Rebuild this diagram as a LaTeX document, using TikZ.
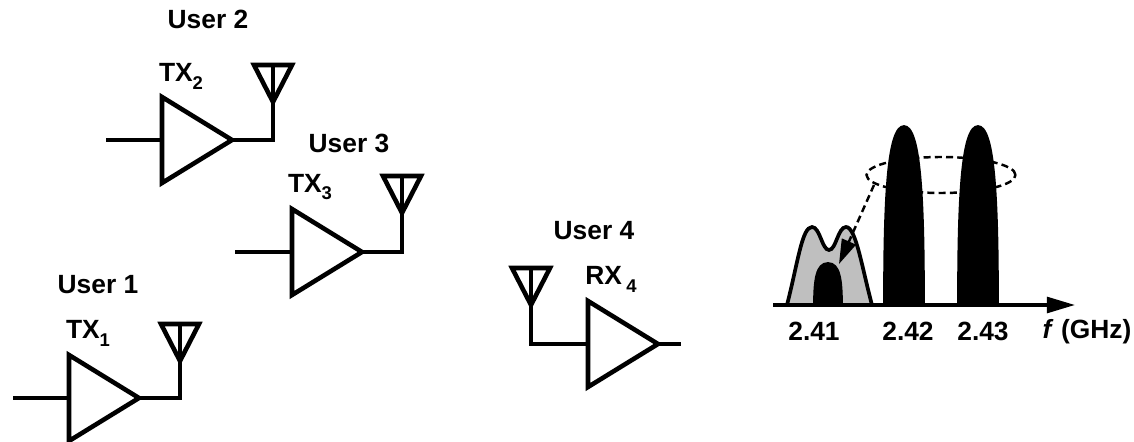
\documentclass[tikz,border=0pt]{standalone}
\usepackage{fontspec}
\setmainfont{Liberation Sans}
\usetikzlibrary{calc,positioning,arrows.meta,shapes.geometric}
\newcommand{\lowidx}[1]{\raisebox{-.3em}{\fontsize{10.5}{12}\selectfont #1}}
\tikzset{
    wire/.style={line width=1.9pt},
    outline/.style={line width=2.6pt,line join=miter},
    hump/.style={fill=black,draw=black,line width=1pt},
    dash line/.style={line width=1.4pt,dash pattern=on 4pt off 2.4pt},
    label/.style={inner sep=0pt,font=\fontsize{15}{17}\selectfont\bfseries},
    pics/amp/.style={code={
        \draw[outline] (0,-43) coordinate (-top) -- (0,43) coordinate (-bot) -- (70,0) coordinate (-tip) -- cycle;
        \coordinate (-mid) at (0,0);
    }},
    pics/aerial/.style={code={
        \draw[outline] (-19,0) -- (19,0) -- (0,37) coordinate (-apex) -- cycle;
        \coordinate (-head) at (0,0);
    }}
}
\begin{document}
\begin{tikzpicture}[x=0.02cm,y=-0.02cm]
    \useasboundingbox (0,0) rectangle (1134,442);
    % transmitters
    \pic (txa) at (69,398) {amp};
    \pic (txb) at (162,140) {amp};
    \pic (txc) at (292,252) {amp};
    \pic (rxd) at (588,344) {amp};
    \pic (anta) at (180,324) {aerial};
    \pic (antb) at (273,65) {aerial};
    \pic (antc) at (402,176) {aerial};
    \pic (antd) at (531,268) {aerial};
    \coordinate (ina) at (13,398);
    \coordinate (inb) at (106,140);
    \coordinate (inc) at (235,252);
    \coordinate (outd) at (681,344);
    \foreach \amp/\ant/\inp in {txa/anta/ina,txb/antb/inb,txc/antc/inc}{
        \draw[wire] (\inp) -- (\amp-mid);
        \draw[wire] (\amp-tip) -| (\ant-head);
    }
    \draw[wire] (antd-head) |- (rxd-mid);
    \draw[wire] (rxd-tip) -- (outd);
    % labels
    \node[label] (usera) at (98,285) {User 1};
    \node[label] (userb) at (208,19) {User 2};
    \node[label] (userc) at (349,143) {User 3};
    \node[label] (userd) at (594,231) {User 4};
    \node[label] (labela) at (88,333) {TX\lowidx{1}};
    \node[label] (labelb) at (181,76) {TX\lowidx{2}};
    \node[label] (labelc) at (310,187) {TX\lowidx{3}};
    \node[label] (labeld) at (611,279) {RX\,\lowidx{4}};
    % spectrum
    \node[draw,dash line,ellipse,minimum width=2.98cm,minimum height=0.72cm,inner sep=0pt] (group) at (941,175) {};
    \coordinate (axisl) at (773,305);
    \coordinate (axisr) at (1075,305);
    \draw[line width=2.1pt,fill=black!25] (787,305) .. controls (798,262) and (802,227) .. (812,227)
        .. controls (820,227) and (822,250) .. (829,250) .. controls (836,250) and (838,227) .. (846,227)
        .. controls (856,227) and (862,268) .. (872,305);
    \draw[hump] (814,305) .. controls (814,280) and (816,263) .. (828,263) .. controls (840,263) and (842,280) .. (842,305) -- cycle;
    \draw[hump] (884,305) .. controls (884,200) and (887,126) .. (904,126) .. controls (921,126) and (924,200) .. (924,305) -- cycle;
    \draw[hump] (958,305) .. controls (958,200) and (961,126) .. (978,126) .. controls (995,126) and (998,200) .. (998,305) -- cycle;
    \draw[dash line,-{Triangle[length=14pt,width=8.5pt,fill=black]}] (874,185) -- (839,264);
    \draw[wire,-{Triangle[length=16pt,width=9pt]}] (axisl) -- (axisr);
    \node[label] (tonea) at (814,331) {2.41};
    \node[label] (toneb) at (908,331) {2.42};
    \node[label] (tonec) at (983,331) {2.43};
    \node[label] (axisname) at (1087,332) {\textit{f} (GHz)};
\end{tikzpicture}
\end{document}
